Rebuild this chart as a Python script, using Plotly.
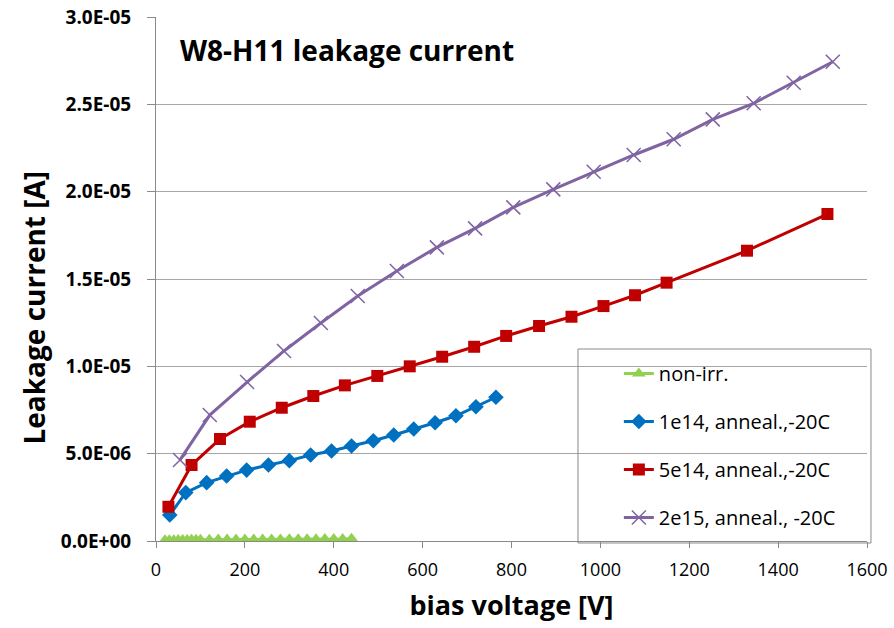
import plotly.graph_objects as go

# ---- data ----
v_nonirr = [20, 30, 40, 50, 60, 70, 80, 90, 100, 120, 140, 160, 180, 200, 220, 240,
            260, 280, 300, 320, 340, 360, 380, 400, 420, 440]
i_nonirr = [4e-8, 5e-8, 5e-8, 6e-8, 6e-8, 6e-8, 7e-8, 7e-8, 7e-8, 7e-8, 8e-8, 8e-8, 8e-8,
            8e-8, 9e-8, 9e-8, 9e-8, 9e-8, 1.0e-7, 1.0e-7, 1.0e-7, 1.0e-7, 1.1e-7, 1.1e-7,
            1.1e-7, 1.3e-7]

v_1e14 = [31, 67, 114, 159, 204, 253, 300, 348, 395, 440, 489, 535, 580, 628, 675, 720, 765]
i_1e14 = [1.49e-6, 2.77e-6, 3.34e-6, 3.72e-6, 4.06e-6, 4.35e-6, 4.60e-6, 4.92e-6, 5.15e-6,
          5.44e-6, 5.74e-6, 6.07e-6, 6.41e-6, 6.77e-6, 7.17e-6, 7.69e-6, 8.23e-6]

v_5e14 = [28, 80, 144, 211, 283, 354, 425, 498, 571, 644, 716, 788, 862, 935, 1007, 1078,
          1149, 1330, 1511]
i_5e14 = [1.96e-6, 4.35e-6, 5.84e-6, 6.83e-6, 7.63e-6, 8.30e-6, 8.91e-6, 9.45e-6, 1.0e-5,
          1.055e-5, 1.112e-5, 1.174e-5, 1.231e-5, 1.284e-5, 1.345e-5, 1.407e-5, 1.479e-5,
          1.662e-5, 1.872e-5]

v_2e15 = [54, 121, 205, 288, 371, 454, 542, 632, 718, 804, 894, 985, 1075, 1165, 1253,
          1345, 1435, 1523]
i_2e15 = [4.64e-6, 7.21e-6, 9.10e-6, 1.088e-5, 1.248e-5, 1.403e-5, 1.546e-5, 1.681e-5,
          1.790e-5, 1.910e-5, 2.013e-5, 2.114e-5, 2.21e-5, 2.30e-5, 2.414e-5, 2.506e-5,
          2.624e-5, 2.744e-5]

names = ["non-irr.", "1e14, anneal.,-20C", "5e14, anneal.,-20C", "2e15, anneal., -20C"]

y_tickvals = [0, 5e-6, 1e-5, 1.5e-5, 2e-5, 2.5e-5, 3e-5]
y_ticktext = ["0.0E+00", "5.0E-06", "1.0E-05", "1.5E-05", "2.0E-05", "2.5E-05", "3.0E-05"]
x_tickvals = [0, 200, 400, 600, 800, 1000, 1200, 1400, 1600]

FONT = "'Open Sans', sans-serif"

fig = go.Figure()
fig.add_trace(go.Scatter(x=v_nonirr, y=i_nonirr, name=names[0], legendgroup="a",
                         mode="lines+markers", line=dict(color="#92D050", width=3),
                         marker=dict(symbol="triangle-up", size=12, color="#92D050")))
fig.add_trace(go.Scatter(x=v_1e14, y=i_1e14, name=names[1], legendgroup="b",
                         mode="lines+markers", line=dict(color="#0070C0", width=3),
                         marker=dict(symbol="diamond", size=12, color="#0070C0")))
fig.add_trace(go.Scatter(x=v_5e14, y=i_5e14, name=names[2], legendgroup="c",
                         mode="lines+markers", line=dict(color="#C00000", width=3),
                         marker=dict(symbol="square", size=12, color="#C00000")))
fig.add_trace(go.Scatter(x=v_2e15, y=i_2e15, name=names[3], legendgroup="d",
                         mode="lines+markers", line=dict(color="#8064A2", width=3),
                         marker=dict(symbol="x-thin-open", size=14,
                                     line=dict(color="#8064A2", width=1.5))))

fig.update_layout(
    width=894, height=628,
    margin=dict(l=156, r=27, t=17, b=87),
    paper_bgcolor="white", plot_bgcolor="white",
    font=dict(family=FONT, color="#000000"),
    showlegend=True,
    legend=dict(x=0.651, y=0.357, xanchor="left", yanchor="top",
                bgcolor="rgba(0,0,0,0)", borderwidth=0,
                font=dict(size=20, family=FONT),
                traceorder="grouped", tracegroupgap=19),
    xaxis=dict(range=[0, 1600], tickvals=x_tickvals, showgrid=False, automargin=False,
               showline=True, linecolor="#898989", linewidth=1,
               ticks="outside", ticklen=6, tickcolor="#898989", ticklabelstandoff=6,
               tickfont=dict(size=18, family=FONT), zeroline=False,
               title=dict(text="bias voltage [V]", standoff=16,
                          font=dict(size=27, family=FONT, weight="bold"))),
    yaxis=dict(range=[0, 3e-5], tickvals=y_tickvals, ticktext=y_ticktext, automargin=False,
               showgrid=True, gridcolor="#A6A6A6", gridwidth=1,
               showline=True, linecolor="#898989", linewidth=1,
               ticks="outside", ticklen=8, tickcolor="#898989", ticklabelstandoff=12,
               tickfont=dict(size=19, family=FONT, weight="bold"), zeroline=False),
    annotations=[
        dict(text="W8-H11 leakage current", xref="paper", yref="paper",
             x=0.031, y=0.937, xanchor="left", yanchor="middle", showarrow=False,
             font=dict(size=28, family=FONT, weight="bold")),
        dict(text="Leakage current [A]", xref="paper", yref="paper",
             x=-0.172, y=0.445, xanchor="center", yanchor="middle", showarrow=False,
             textangle=-90, font=dict(size=28, family=FONT, weight="bold")),
    ],
    shapes=[dict(type="rect", xref="paper", yref="paper",
                 x0=0.5935, x1=1.0056, y0=-0.0038, y1=0.3664,
                 line=dict(color="#898989", width=1), fillcolor="rgba(0,0,0,0)")],
)

fig.write_html("out.html")
